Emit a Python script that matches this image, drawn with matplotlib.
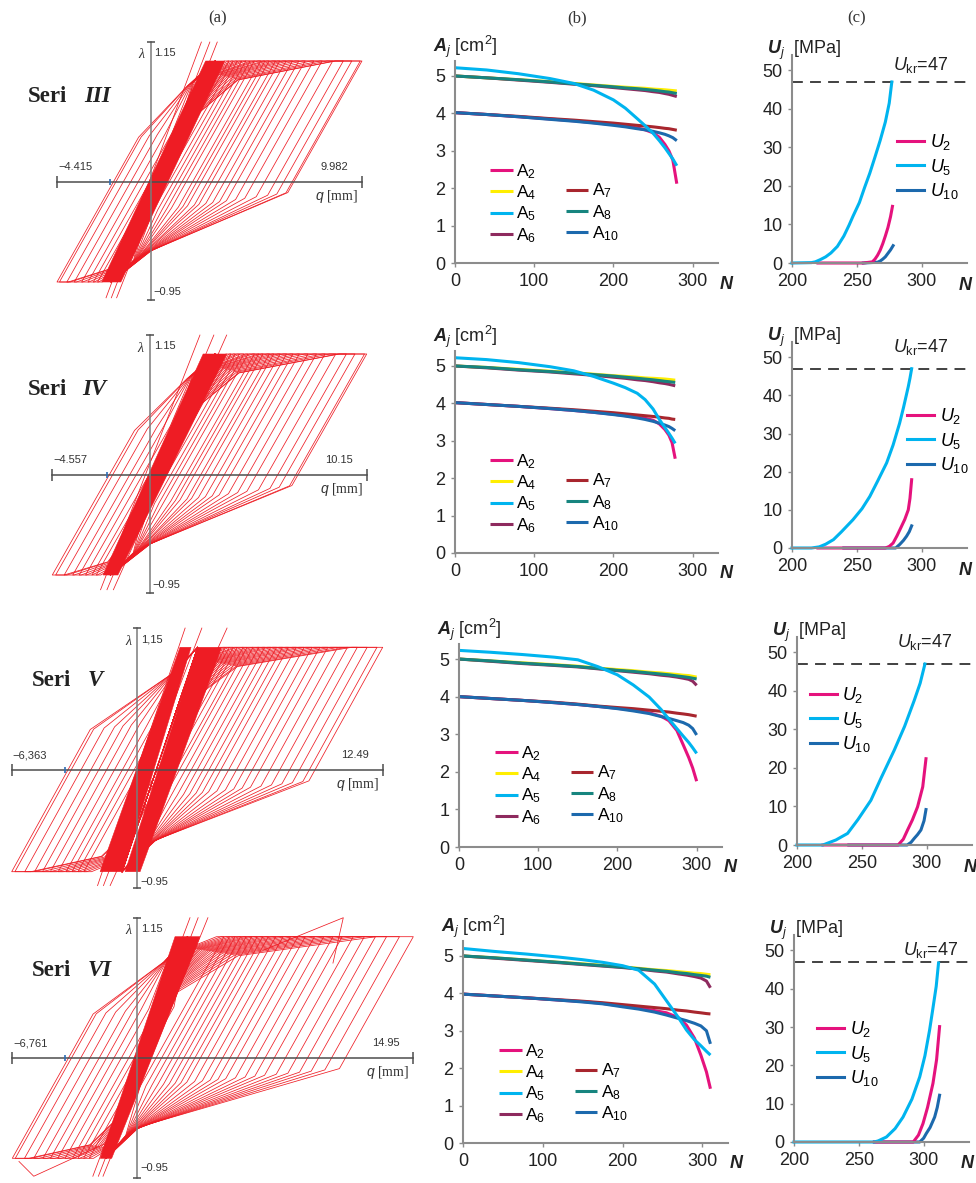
import numpy as np
import matplotlib
matplotlib.use('Agg')
import matplotlib.pyplot as plt
from matplotlib.lines import Line2D

W, H = 976, 1183
plt.rcParams['font.family'] = ['Liberation Sans', 'DejaVu Sans']
plt.rcParams['mathtext.fontset'] = 'custom'
plt.rcParams['mathtext.rm'] = 'Liberation Sans'
plt.rcParams['mathtext.it'] = 'Liberation Sans:italic'
plt.rcParams['mathtext.bf'] = 'Liberation Sans:bold'
plt.rcParams['mathtext.bfit'] = 'Liberation Sans:italic:bold'

# ---------------- data: (a) hysteresis loops ----------------
series = ['III', 'IV', 'V', 'VI']
lam_lo, lam_hi = -0.95, 1.15
q_left = [-4.415, -4.557, -6.363, -6.761]
q_right = [9.982, 10.15, 12.49, 14.95]
q_left_txt = ['\u22124.415', '\u22124.557', '\u22126,363', '\u22126,761']
q_right_txt = ['9.982', '10.15', '12.49', '14.95']
lam_top_txt = ['1.15', '1.15', '1,15', '1.15']
lam_axis_end = [(-1.12, 1.33), (-1.12, 1.33), (-1.10, 1.33), (-1.14, 1.33)]
blue_tick_q = [-1.9, -2.0, -3.65, -3.9]
unload_slope = [2.8, 2.8, 3.0, 3.2]

# dense elastic band: (q bottom-left, q bottom-right, q top-left, q top-right)
bands = [
    [(-2.3, -1.4, 2.6, 3.5)],
    [(-2.18, -1.49, 2.5, 3.6)],
    [(-1.87, -0.72, 2.19, 2.75), (-0.6, 0.16, 3.1, 4.3)],
    [(-2.0, -1.38, 2.05, 3.4)],
]
# peak displacements of the loops that leave the band
loop_qmax = [
    [9.98, 9.9, 9.5, 9.1, 8.6, 8.1, 7.7, 7.3, 7.0, 6.7, 6.4, 6.1, 5.9, 5.6,
     5.4, 5.2, 4.9, 4.7, 4.5, 4.3, 4.1, 3.9, 3.7],
    [10.15, 10.05, 9.6, 9.2, 8.7, 8.2, 7.8, 7.4, 7.0, 6.7, 6.4, 6.1, 5.8, 5.6,
     5.3, 5.1, 4.9, 4.6, 4.4, 4.2, 4.0, 3.8],
    [12.49, 12.2, 11.7, 11.2, 10.7, 10.2, 9.7, 9.3, 8.9, 8.5, 8.1, 7.7, 7.4,
     7.1, 6.8, 6.5, 6.2, 5.9, 5.6, 5.4, 5.1, 4.9, 4.7, 4.5],
    [14.95, 14.2, 13.5, 12.9, 12.3, 11.7, 11.1, 10.6, 10.1, 9.6, 9.1, 8.7,
     8.3, 7.9, 7.5, 7.1, 6.8, 6.5, 6.2, 5.9, 5.6, 5.3, 5.0, 4.7],
]
loop_qmin = [
    [-4.415, -4.3, -3.95, -3.6, -3.25, -2.95, -2.7, -2.5],
    [-4.557, -4.4, -4.0, -3.6, -3.3, -3.0, -2.7, -2.5],
    [-6.363, -6.2, -5.7, -5.2, -4.8, -4.4, -4.0, -3.6, -3.3, -3.0, -2.7],
    [-6.761, -6.6, -6.1, -5.6, -5.1, -4.7, -4.3, -3.9, -3.5, -3.2, -2.9, -2.6],
]
# first cycles that overshoot the plateaus: polylines (q, lambda)
overshoot = [
    [[(-2.1, -1.1), (2.4, 1.33)], [(-1.85, -1.1), (2.8, 1.33)], [(-1.6, -1.1), (3.15, 1.33)]],
    [[(-2.3, -1.09), (2.35, 1.33)], [(-2.0, -1.09), (3.0, 1.33)], [(-1.7, -1.09), (3.6, 1.33)]],
    [[(-2.0, -1.08), (2.45, 1.33)], [(-1.7, -1.08), (3.3, 1.33)], [(-1.36, -1.08), (4.58, 1.33)]],
    [[(-2.4, -1.12), (2.86, 1.33)], [(-2.1, -1.12), (3.3, 1.33)], [(-1.85, -1.12), (3.83, 1.33)],
     [(6.8, 1.02), (11.16, 1.33), (10.6, 0.9)], [(-6.4, -0.98), (-5.6, -1.12), (-1.6, -0.8)]],
]

# ---------------- data: (b) cross-section areas ----------------
N_b = [
    [0, 40, 80, 120, 150, 175, 200, 215, 230, 240, 250, 258, 265, 270, 275, 280],
    [0, 40, 80, 120, 150, 175, 200, 215, 230, 240, 250, 258, 265, 270, 274, 278],
    [0, 40, 80, 120, 150, 175, 200, 220, 240, 255, 265, 275, 283, 290, 295, 300],
    [0, 40, 80, 120, 150, 175, 200, 220, 240, 255, 270, 280, 290, 298, 305, 310],
]
A2 = [
    [4.02, 3.97, 3.91, 3.85, 3.80, 3.75, 3.70, 3.66, 3.61, 3.56, 3.48, 3.36, 3.17, 3.00, 2.75, 2.12],
    [4.02, 3.97, 3.92, 3.86, 3.81, 3.76, 3.71, 3.67, 3.63, 3.60, 3.55, 3.45, 3.30, 3.15, 2.95, 2.52],
    [4.00, 3.95, 3.90, 3.84, 3.79, 3.74, 3.69, 3.64, 3.57, 3.48, 3.36, 3.10, 2.72, 2.38, 2.10, 1.75],
    [3.98, 3.93, 3.88, 3.82, 3.78, 3.73, 3.66, 3.61, 3.54, 3.48, 3.35, 3.15, 2.80, 2.35, 1.90, 1.45],
]
A4 = [
    [5.00, 4.95, 4.90, 4.85, 4.80, 4.76, 4.72, 4.70, 4.68, 4.67, 4.65, 4.64, 4.63, 4.62, 4.61, 4.60],
    [5.00, 4.96, 4.91, 4.86, 4.82, 4.78, 4.74, 4.72, 4.70, 4.68, 4.67, 4.66, 4.65, 4.64, 4.63, 4.62],
    [5.00, 4.95, 4.90, 4.85, 4.81, 4.76, 4.72, 4.69, 4.65, 4.63, 4.61, 4.59, 4.57, 4.56, 4.54, 4.52],
    [5.00, 4.95, 4.89, 4.83, 4.79, 4.75, 4.71, 4.67, 4.63, 4.61, 4.58, 4.56, 4.54, 4.53, 4.51, 4.50],
]
A5 = [
    [5.22, 5.16, 5.06, 4.93, 4.80, 4.62, 4.36, 4.14, 3.86, 3.67, 3.47, 3.27, 3.08, 2.93, 2.78, 2.60],
    [5.22, 5.17, 5.09, 4.98, 4.87, 4.72, 4.54, 4.42, 4.27, 4.10, 3.85, 3.57, 3.35, 3.20, 3.07, 2.93],
    [5.23, 5.18, 5.12, 5.05, 4.98, 4.80, 4.58, 4.31, 3.99, 3.66, 3.40, 3.15, 2.95, 2.78, 2.64, 2.49],
    [5.20, 5.12, 5.05, 4.97, 4.90, 4.83, 4.74, 4.62, 4.25, 3.80, 3.35, 3.02, 2.76, 2.60, 2.45, 2.35],
]
A6 = [
    [5.00, 4.95, 4.89, 4.83, 4.78, 4.74, 4.69, 4.66, 4.63, 4.61, 4.58, 4.56, 4.53, 4.51, 4.48, 4.45],
    [5.00, 4.95, 4.89, 4.84, 4.79, 4.75, 4.70, 4.67, 4.63, 4.61, 4.58, 4.55, 4.53, 4.51, 4.49, 4.47],
    [5.00, 4.94, 4.88, 4.83, 4.79, 4.74, 4.69, 4.65, 4.61, 4.57, 4.55, 4.52, 4.49, 4.46, 4.41, 4.30],
    [5.00, 4.94, 4.88, 4.82, 4.77, 4.73, 4.69, 4.65, 4.60, 4.57, 4.52, 4.49, 4.45, 4.41, 4.33, 4.15],
]
A7 = [
    [4.02, 3.97, 3.92, 3.86, 3.82, 3.78, 3.74, 3.71, 3.68, 3.66, 3.64, 3.62, 3.60, 3.59, 3.57, 3.55],
    [4.02, 3.97, 3.92, 3.87, 3.83, 3.79, 3.75, 3.72, 3.69, 3.67, 3.65, 3.63, 3.61, 3.60, 3.58, 3.57],
    [4.00, 3.95, 3.90, 3.85, 3.80, 3.75, 3.71, 3.68, 3.64, 3.61, 3.59, 3.56, 3.54, 3.52, 3.50, 3.48],
    [3.98, 3.93, 3.88, 3.83, 3.79, 3.75, 3.70, 3.66, 3.62, 3.59, 3.55, 3.53, 3.50, 3.48, 3.46, 3.45],
]
A8 = [
    [5.00, 4.95, 4.90, 4.84, 4.79, 4.75, 4.71, 4.68, 4.66, 4.64, 4.62, 4.60, 4.58, 4.57, 4.55, 4.53],
    [5.00, 4.96, 4.90, 4.85, 4.81, 4.77, 4.73, 4.70, 4.67, 4.65, 4.63, 4.61, 4.59, 4.58, 4.57, 4.56],
    [5.00, 4.95, 4.89, 4.84, 4.80, 4.75, 4.70, 4.67, 4.63, 4.60, 4.58, 4.55, 4.53, 4.51, 4.49, 4.47],
    [5.00, 4.95, 4.89, 4.83, 4.78, 4.74, 4.70, 4.66, 4.62, 4.59, 4.55, 4.53, 4.50, 4.48, 4.46, 4.43],
]
A10 = [
    [4.02, 3.97, 3.91, 3.84, 3.79, 3.74, 3.68, 3.64, 3.59, 3.56, 3.52, 3.48, 3.44, 3.40, 3.35, 3.27],
    [4.02, 3.97, 3.92, 3.86, 3.81, 3.76, 3.70, 3.66, 3.61, 3.57, 3.52, 3.47, 3.42, 3.38, 3.33, 3.27],
    [4.00, 3.95, 3.90, 3.84, 3.79, 3.74, 3.68, 3.62, 3.55, 3.47, 3.42, 3.36, 3.31, 3.24, 3.15, 2.98],
    [3.98, 3.93, 3.88, 3.82, 3.77, 3.72, 3.64, 3.58, 3.50, 3.42, 3.33, 3.27, 3.20, 3.13, 3.00, 2.65],
]

# ---------------- data: (c) stresses ----------------
N_U5 = [
    [200, 215, 218, 222, 226, 230, 235, 240, 244, 247, 252, 256, 260, 264, 268, 272, 275, 277],
    [200, 215, 221, 226, 232, 238, 247, 254, 260, 266, 273, 278, 283, 286, 289.7, 291, 292.3],
    [200, 220, 223, 230, 239, 247, 257, 265, 275, 283, 290.4, 295, 298.7],
    [200, 262, 265, 271.3, 278, 284.1, 291, 297, 301, 304.6, 307, 309.7, 311.5],
]
U5 = [
    [0, 0.1, 0.3, 0.9, 1.6, 2.6, 4.3, 7.0, 9.8, 12.1, 15.7, 19.6, 23.3, 27.5, 31.8, 36.6, 41.5, 47.0],
    [0, 0, 0.3, 1.0, 2.2, 4.2, 7.4, 10.3, 13.5, 17.5, 22.3, 27.0, 32.7, 36.8, 42.3, 44.5, 47.0],
    [0, 0, 0.4, 1.3, 3.0, 6.6, 11.6, 17.5, 24.6, 30.8, 37.5, 42.0, 47.0],
    [0, 0, 0.3, 1.3, 3.5, 6.5, 11.2, 17.0, 22.5, 29.2, 34.5, 40.6, 46.7],
]
N_U2 = [
    [220, 255, 262, 264, 266, 268, 270, 272, 274, 276, 277.5],
    [220, 272, 275, 278, 281, 284.5, 287, 289.7, 291, 292.3],
    [220, 278, 282, 285.3, 289, 293, 297, 299.5],
    [262, 292, 296, 299.5, 303, 307.2, 310, 312.3],
]
U2 = [
    [0, 0, 0.3, 1.0, 2.0, 3.3, 5.0, 7.0, 9.2, 12.0, 14.7],
    [0, 0, 0.4, 1.3, 3.2, 5.7, 7.5, 10.0, 13.0, 17.9],
    [0, 0, 1.5, 3.9, 6.5, 9.9, 15.1, 22.4],
    [0, 0, 1.8, 4.8, 9.0, 15.3, 21.5, 30.1],
]
N_U10 = [
    [255, 266, 268, 270, 272, 274, 276, 278],
    [240, 280, 283, 286, 288.4, 290.5, 292.3],
    [240, 285, 288, 290.4, 293, 295.6, 298, 299.5],
    [262, 297, 300, 302, 305, 308.5, 310.5, 312.3],
]
U10 = [
    [0, 0.2, 0.5, 1.0, 1.6, 2.5, 3.4, 4.5],
    [0, 0, 0.9, 2.0, 3.1, 4.3, 5.8],
    [0, 0, 0.7, 1.7, 2.7, 3.9, 6.3, 9.2],
    [0, 0, 1.0, 2.2, 3.8, 6.5, 9.0, 12.2],
]
U_kr = 47

# ---------------- style / layout ----------------
RED = '#ee1c24'
col = {'A2': '#e5127d', 'A4': '#ffee00', 'A5': '#00b4ef', 'A6': '#8e2a5e',
       'A7': '#a8262e', 'A8': '#17857f', 'A10': '#1c69ad'}
U_col = {'U2': '#e5127d', 'U5': '#00b4ef', 'U10': '#1c69ad'}
AX_GREY = '#8c8c8c'

# pixel anchors: x of q_left, x of q_right, y of lambda=1.15, y of lambda=-0.95
a_px = [(57, 362, 61, 282), (52.3, 366.7, 354, 575),
        (11.7, 382.7, 647.3, 871.7), (12.3, 413.3, 936.7, 1158.3)]
b_px = [(455, 61, 718, 263), (455, 351, 718, 553), (459, 644, 722, 847), (463, 941, 728, 1143)]
c_px = [(792, 55, 967, 263), (792, 342, 967, 548), (797, 637, 972, 845), (794, 935, 969, 1142)]
seri_px = [(28, 97, 84), (28, 390, 82), (32, 680, 88), (32, 970, 88)]
b_leg_px = [(490, 162), (490, 452), (495, 744), (499, 1042)]
c_leg_px = [(897, 132), (907, 406), (810, 685), (817, 1019)]
kr_px = [(893, 65), (893, 347), (897, 642), (903, 950)]

fig = plt.figure(figsize=(W / 100, H / 100), dpi=100)


def px_axes(x0, y0, x1, y1):
    return fig.add_axes([x0 / W, 1 - y1 / H, (x1 - x0) / W, (y1 - y0) / H])


def right_loop(qmax, g, qb0, qt0, su):
    # loop leaving the elastic band to the right, corner points only
    sb = (qt0 - qb0) / (lam_hi - lam_lo)
    kl = 0.85 - 0.3 * g
    p2 = qb0 + sb * (kl - lam_lo)
    c = qmax - 0.15 * (qmax - p2)
    pmq, pml = p2 + 0.35 * (c - p2), kl + 0.7 * (lam_hi - kl)
    ku = -0.1 - 0.2 * (1 - g)
    p5 = qmax - su * (lam_hi - ku)
    lam_c = -0.75 + 0.1 * g
    q_c = qb0 + sb * (lam_c - lam_lo) + 0.5 + 0.7 * g
    q = [qb0, p2, pmq, c, qmax, p5]
    lam = [lam_lo, kl, pml, lam_hi, lam_hi, ku]
    if p5 > q_c:
        q.append(q_c)
        lam.append(lam_c)
    q.append(qb0)
    lam.append(lam_lo)
    return np.array(q), np.array(lam)


def style_axes(ax):
    for s in ['top', 'right']:
        ax.spines[s].set_visible(False)
    for s in ['left', 'bottom']:
        ax.spines[s].set_color(AX_GREY)
        ax.spines[s].set_linewidth(1.5)
    ax.tick_params(colors=AX_GREY, labelcolor='#222222', length=3, width=1,
                   labelsize=13, pad=4)


for header, x in zip(['(a)', '(b)', '(c)'], [218, 577, 857]):
    fig.text(x / W, 1 - 18 / H, header, family='Liberation Serif', fontsize=12,
             ha='center', va='center', color='#333333')

for r in range(4):
    # ----- (a) -----
    x0, x1, y0, y1 = a_px[r]
    ax = px_axes(x0, y0, x1, y1)
    ax.set_xlim(q_left[r], q_right[r])
    ax.set_ylim(lam_lo, lam_hi)
    ax.axis('off')
    for bl, br, tl, tr in bands[r]:
        ax.fill([bl, br, tr, tl], [lam_lo, lam_lo, lam_hi, lam_hi], color=RED,
                lw=0.4, clip_on=False, zorder=2)
    qb0 = np.mean([b[0] for b in bands[r]] + [b[1] for b in bands[r]])
    qt0 = np.mean([b[2] for b in bands[r]] + [b[3] for b in bands[r]])
    qc = 0.5 * (qb0 + qt0)
    span = q_right[r] - qt0
    for qm in loop_qmax[r]:
        g = np.clip((qm - qt0) / span, 0, 1)
        q, lam = right_loop(qm, g, qb0, qt0, unload_slope[r])
        ax.plot(q, lam, color=RED, lw=0.55, clip_on=False, zorder=3)
    for qn in loop_qmin[r]:
        qeq = 2 * qc - qn
        g = np.clip((qeq - qt0) / span, 0, 1)
        q, lam = right_loop(qeq, g, qb0, qt0, unload_slope[r])
        ax.plot(2 * qc - q, (lam_lo + lam_hi) - lam, color=RED, lw=0.55,
                clip_on=False, zorder=3)
    for line in overshoot[r]:
        qs, ls = zip(*line)
        ax.plot(qs, ls, color=RED, lw=0.55, clip_on=False, zorder=3)
    # axes of the hysteresis diagram
    ax.plot([q_left[r], q_right[r]], [0, 0], color='#4d4d4d', lw=1.1,
            clip_on=False, zorder=5)
    ax.plot([q_left[r], q_right[r]], [0, 0], ls='none', marker='|', ms=8,
            mew=1.1, color='#4d4d4d', clip_on=False, zorder=5)
    lb, lt = lam_axis_end[r]
    ax.plot([0, 0], [lb, lt], color='#7a7a7a', lw=1.1, clip_on=False, zorder=5)
    ax.plot([0, 0], [lb, lt], ls='none', marker='_', ms=6, mew=1.1,
            color='#4d4d4d', clip_on=False, zorder=5)
    ax.plot([blue_tick_q[r]], [0], ls='none', marker='|', ms=4, mew=1.2,
            color='#2f6db5', clip_on=False, zorder=6)
    ax.annotate('\u03bb', (0, lam_hi), xytext=(-9, 6), textcoords='offset pixels',
                ha='center', va='center', family='Liberation Serif',
                style='italic', fontsize=10, color='#333333')
    ax.annotate(lam_top_txt[r], (0, lam_hi), xytext=(4, 8), textcoords='offset pixels',
                ha='left', va='center', fontsize=8, color='#333333')
    ax.annotate('\u22120.95', (0, lam_lo), xytext=(3, -10), textcoords='offset pixels',
                ha='left', va='center', fontsize=8, color='#333333')
    ax.annotate(q_left_txt[r], (q_left[r], 0), xytext=(1, 15), textcoords='offset pixels',
                ha='left', va='center', fontsize=8, color='#333333')
    ax.annotate(q_right_txt[r], (q_right[r], 0), xytext=(-14, 15), textcoords='offset pixels',
                ha='right', va='center', fontsize=8, color='#333333')
    ax.annotate('$\\mathit{q}$ [mm]', (q_right[r], 0), xytext=(-4, -14),
                textcoords='offset pixels', ha='right', va='center',
                family='Liberation Serif', fontsize=10, color='#333333')
    sx, sy, nx = seri_px[r]
    fig.text(sx / W, 1 - sy / H, 'Seri', family='Liberation Serif', fontweight='bold',
             fontsize=16.5, ha='left', va='center', color='#222222')
    fig.text(nx / W, 1 - sy / H, series[r], family='Liberation Serif', fontweight='bold',
             style='italic', fontsize=16.5, ha='left', va='center', color='#222222')

    # ----- (b) -----
    bx0, by0, bx1, by1 = b_px[r]
    ax = px_axes(bx0, by0, bx1, by1)
    style_axes(ax)
    ax.set_xlim(0, 332)
    ax.set_ylim(0, 5.4)
    ax.set_xticks([0, 100, 200, 300])
    ax.set_yticks([0, 1, 2, 3, 4, 5])
    data = {'A2': A2[r], 'A4': A4[r], 'A5': A5[r], 'A6': A6[r], 'A7': A7[r],
            'A8': A8[r], 'A10': A10[r]}
    h = {}
    for k in ['A2', 'A7', 'A10', 'A4', 'A6', 'A8', 'A5']:
        h[k], = ax.plot(N_b[r], data[k], color=col[k], lw=2.2, clip_on=False,
                        solid_capstyle='butt', solid_joinstyle='round')
    blank = Line2D([], [], color='none')
    handles = [h['A2'], h['A4'], h['A5'], h['A6'], blank, h['A7'], h['A8'], h['A10']]
    labels = ['A$_{2}$', 'A$_{4}$', 'A$_{5}$', 'A$_{6}$', '', 'A$_{7}$', 'A$_{8}$', 'A$_{10}$']
    lx, ly = b_leg_px[r]
    ax.legend(handles, labels, ncol=2, loc='upper left', frameon=False,
              bbox_to_anchor=(lx / W, 1 - ly / H), bbox_transform=fig.transFigure,
              fontsize=12.5, handlelength=1.3, handletextpad=0.2, borderpad=0,
              borderaxespad=0, labelspacing=0.15, columnspacing=1.7)
    fig.text((bx0 - 22) / W, 1 - (by0 - 14) / H,
             '$\\mathbfit{A}_{\\mathit{j}}$ [cm$^{2}$]', fontsize=13,
             ha='left', va='center', color='#222222')
    fig.text((bx1 + 2) / W, 1 - (by1 + 21) / H, 'N', fontweight='bold',
             style='italic', fontsize=13, ha='left', va='center', color='#222222')

    # ----- (c) -----
    cx0, cy0, cx1, cy1 = c_px[r]
    ax = px_axes(cx0, cy0, cx1, cy1)
    style_axes(ax)
    ax.set_xlim(200, 335)
    ax.set_ylim(0, 54)
    ax.set_xticks([200, 250, 300])
    ax.set_yticks([0, 10, 20, 30, 40, 50])
    ax.axhline(U_kr, color='#333333', lw=1.3, ls=(0, (6, 4)))
    hu10, = ax.plot(N_U10[r], U10[r], color=U_col['U10'], lw=2.2, clip_on=False,
                    solid_joinstyle='round')
    hu2, = ax.plot(N_U2[r], U2[r], color=U_col['U2'], lw=2.2, clip_on=False,
                   solid_joinstyle='round')
    hu5, = ax.plot(N_U5[r], U5[r], color=U_col['U5'], lw=2.2, clip_on=False,
                   solid_joinstyle='round')
    lx, ly = c_leg_px[r]
    ax.legend([hu2, hu5, hu10], ['$U_{2}$', '$U_{5}$', '$U_{10}$'], loc='upper left',
              frameon=False, bbox_to_anchor=(lx / W, 1 - ly / H),
              bbox_transform=fig.transFigure, fontsize=13, handlelength=1.5,
              handletextpad=0.3, borderpad=0, borderaxespad=0, labelspacing=0.25)
    kx, ky = kr_px[r]
    fig.text(kx / W, 1 - ky / H, '$U_{\\mathrm{kr}}$=47', fontsize=13,
             ha='left', va='center', color='#222222')
    fig.text((cx0 - 25) / W, 1 - (cy0 - 5) / H,
             '$\\mathbfit{U}_{\\mathit{j}}$  [MPa]', fontsize=13,
             ha='left', va='center', color='#222222')
    fig.text((cx1 - 8) / W, 1 - (cy1 + 22) / H, 'N', fontweight='bold',
             style='italic', fontsize=13, ha='left', va='center', color='#222222')

fig.savefig('out.png', dpi=100)
